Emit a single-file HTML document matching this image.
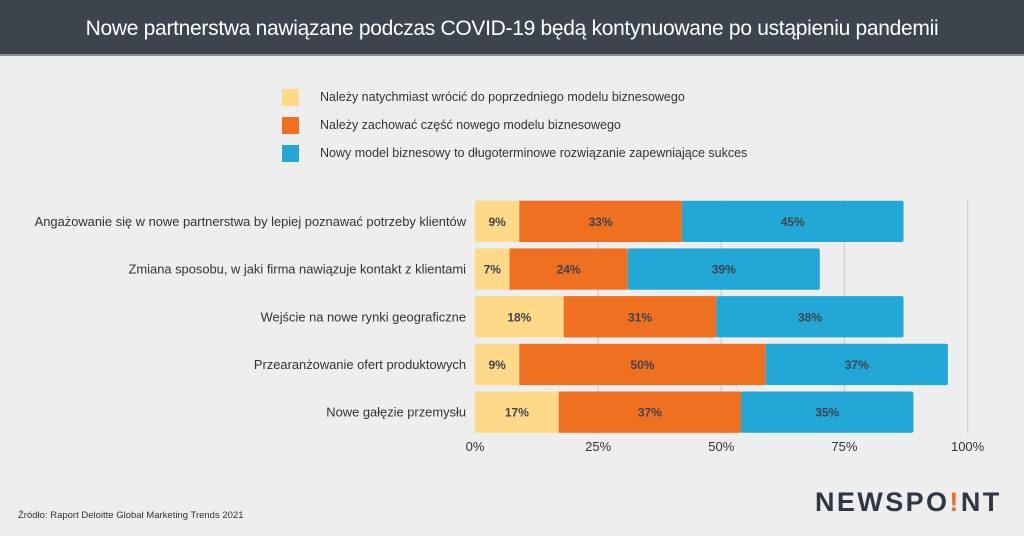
<!DOCTYPE html>
<html><head><meta charset="utf-8"><style>
body{margin:0;width:1024px;height:536px;background:#eeeeee;font-family:"Liberation Sans",sans-serif;overflow:hidden;position:relative}
.hdr{position:absolute;left:0;top:0;width:1024px;height:54px;background:#3d444d;border-bottom:2px solid #8a8f96;color:#fff;font-size:21px;text-align:center;line-height:58px;letter-spacing:-0.3px}
.lg{position:absolute;left:282px;font-size:12.5px;color:#333}
.lg span{position:absolute;left:0;top:0;width:17px;height:17px}
.lg b{font-weight:normal;position:absolute;left:38px;top:1px;white-space:nowrap}
</style></head><body>
<div class="hdr">Nowe partnerstwa nawiązane podczas COVID-19 będą kontynuowane po ustąpieniu pandemii</div>
<div class="lg" style="top:89px"><span style="background:#ffd98a"></span><b>Należy natychmiast wrócić do poprzedniego modelu biznesowego</b></div>
<div class="lg" style="top:117px"><span style="background:#f07022"></span><b>Należy zachować część nowego modelu biznesowego</b></div>
<div class="lg" style="top:145px"><span style="background:#22a7d6"></span><b>Nowy model biznesowy to długoterminowe rozwiązanie zapewniające sukces</b></div>
<svg id="chart" width="1024" height="536" style="position:absolute;left:0;top:0"></svg>
<div style="position:absolute;left:18px;top:510px;font-size:9.5px;color:#333">Źródło: Raport Deloitte Global Marketing Trends 2021</div>
<div style="position:absolute;left:815px;top:487px;font-size:27px;font-weight:bold;letter-spacing:2.4px;color:#2f3744">NEWSPO<span style="color:#f07022">!</span>NT</div>
<script>
const categories=["Angażowanie się w nowe partnerstwa by lepiej poznawać potrzeby klientów","Zmiana sposobu, w jaki firma nawiązuje kontakt z klientami","Wejście na nowe rynki geograficzne","Przearanżowanie ofert produktowych","Nowe gałęzie przemysłu"];
const returnVals=[9,7,18,9,17];
const keepVals=[33,24,31,50,37];
const newVals=[45,39,38,37,35];
const ticks=[0,25,50,75,100];
const colors=["#ffd98a","#f07022","#22a7d6"];
const svg=document.getElementById('chart');const NS="http://www.w3.org/2000/svg";
const x=v=>475+v*4.926;
const yTop=i=>200.7+i*47.7;const bh=41.3;
function el(t,a,p){const e=document.createElementNS(NS,t);for(const k in a)e.setAttribute(k,a[k]);(p||svg).appendChild(e);return e;}
ticks.forEach(t=>{
 if(t>0){const g=el('line',{x1:x(t),x2:x(t),y1:200,y2:433,stroke:'#d2d2d2','stroke-width':1.5});
 
 }
 const l=el('text',{x:x(t),y:451,'text-anchor':'middle','font-size':13,fill:'#333'});l.textContent=t+'%';
 
 
});
categories.forEach((c,i)=>{
 const y=yTop(i);
 const lab=el('text',{x:466,y:y+bh/2+4.5,'text-anchor':'end','font-size':12.9,fill:'#333'});lab.textContent=c;
 
 
 const vals=[returnVals[i],keepVals[i],newVals[i]];let s=0;
 vals.forEach((v,j)=>{
  const r=el('rect',{x:x(s),y:y,width:x(s+v)-x(s),height:bh,fill:colors[j],rx:j==2?2:0});
  
  
  const t=el('text',{x:(x(s)+x(s+v))/2,y:y+bh/2+4.5,'text-anchor':'middle','font-size':12,'font-weight':'bold',fill:'#3d444d'});t.textContent=v+'%';
  
  
  s+=v;
 });
});
</script>
</body></html>
